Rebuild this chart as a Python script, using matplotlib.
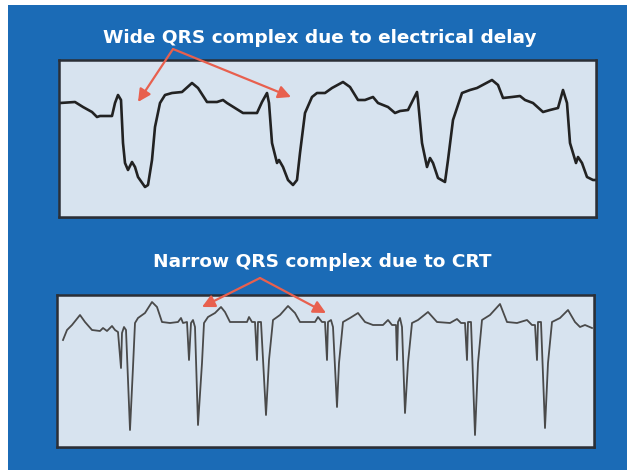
import matplotlib
matplotlib.use("Agg")
import matplotlib.pyplot as plt
from matplotlib.patches import Rectangle
import numpy as np

# ---- data (time in sample units, amplitude in arbitrary units) ----
top_t = [60, 75, 83, 92, 97, 100, 112, 115, 118, 121, 123, 125, 128, 132, 135, 138, 145, 148, 152, 155,
         160, 165, 172, 182, 192, 198, 207, 217, 223, 227, 235, 243, 248, 257, 262, 267, 269, 272, 277,
         279, 283, 288, 293, 297, 300, 305, 312, 317, 325, 332, 343, 350, 358, 365, 373, 378, 388, 395,
         400, 408, 413, 417, 418, 422, 427, 430, 433, 438, 445, 448, 453, 462, 470, 477, 492, 498, 503,
         512, 520, 525, 533, 543, 550, 558, 563, 567, 570, 576, 578, 582, 587, 593, 596]
top_v = [13, 14, 9, 4, -1, 0, 0, 13, 21, 16, -27, -47, -54, -46, -51, -61, -71, -69, -44, -11,
         13, 21, 23, 24, 33, 28, 14, 14, 16, 13, 8, 3, 3, 3, 14, 23, 13, -27, -47,
         -44, -51, -64, -69, -64, -37, 3, 19, 23, 23, 28, 34, 29, 16, 16, 19, 13, 9, 3,
         5, 6, 16, 24, 16, -27, -51, -42, -47, -62, -66, -44, -4, 23, 26, 28, 36, 31, 18,
         19, 20, 16, 13, 4, 6, 8, 26, 13, -27, -47, -41, -47, -61, -64, -64]

bot_t = [63, 67, 72, 80, 85, 92, 100, 103, 107, 112, 115, 118, 121, 122, 124, 126, 130, 133, 135, 138,
         145, 152, 157, 162, 170, 178, 181, 183, 187, 189, 191, 193, 195, 198, 202, 204, 208, 215, 221,
         225, 230, 247, 249, 252, 255, 257, 258, 261, 266, 269, 273, 280, 288, 295, 300, 315, 318, 322,
         325, 327, 328, 331, 333, 337, 339, 343, 350, 358, 365, 373, 383, 388, 392, 396, 397, 398, 400,
         402, 405, 408, 412, 418, 428, 437, 450, 457, 461, 465, 467, 468, 471, 475, 478, 482, 490, 500,
         507, 517, 527, 532, 535, 537, 538, 541, 545, 548, 552, 560, 568, 575, 580, 585, 592]
bot_v = [-18, -8, -3, 7, 0, -8, -9, -6, -9, -4, -8, -10, -46, -11, -5, -8, -108, -45, -1, 4,
         9, 20, 15, 0, -1, 0, 4, -1, 0, -38, -1, 2, -5, -103, -41, -1, 5, 9, 15,
         10, 0, 0, 5, 0, 0, -38, 0, 0, -93, -38, 2, 7, 16, 9, 0, 0, 5, 0,
         0, -38, 0, 2, -5, -85, -41, 0, 4, 9, 0, -3, -3, 2, -3, -3, -38, 0, 4,
         -5, -91, -41, -1, 2, 10, 0, -1, 3, -1, -1, -38, 0, 0, -113, -41, 2, 7, 18,
         0, -1, 2, -3, -3, -38, 0, 0, -106, -41, 0, 4, 12, 0, -5, -3, -6]

top_title = "Wide QRS complex due to electrical delay"
bot_title = "Narrow QRS complex due to CRT"

BLUE = "#1b6bb6"
PANEL = "#d7e3ef"

fig = plt.figure(figsize=(6.27, 4.70), dpi=100)
fig.patch.set_facecolor("white")

# background axes in pixel coordinates
bg = fig.add_axes([0, 0, 1, 1])
bg.set_xlim(0, 627)
bg.set_ylim(470, 0)
bg.axis("off")
bg.add_patch(Rectangle((8, 5), 619, 465, facecolor=BLUE, edgecolor="none"))

W, H = 627.0, 470.0
def px_axes(x0, y0, x1, y1):
    return fig.add_axes([x0 / W, 1 - y1 / H, (x1 - x0) / W, (y1 - y0) / H])

# shadows
bg.add_patch(Rectangle((61, 62), 537, 157, facecolor="#2a3a4a", edgecolor="none", alpha=0.6))
bg.add_patch(Rectangle((60, 297), 536, 152, facecolor="#2a3a4a", edgecolor="none", alpha=0.6))

ax1 = px_axes(59, 60, 596, 217)
ax1.plot(top_t, top_v, color="#222222", lw=1.9, solid_joinstyle="round")
ax1.set_xlim(59, 596)
ax1.set_ylim(116 - 217, 116 - 60)

ax2 = px_axes(57, 295, 594, 447)
ax2.plot(bot_t, bot_v, color="#4a4a4a", lw=1.3, solid_joinstyle="round")
ax2.set_xlim(57, 594)
ax2.set_ylim(322 - 447, 322 - 295)

for ax in (ax1, ax2):
    ax.set_facecolor(PANEL)
    ax.set_xticks([]); ax.set_yticks([])
    for s in ax.spines.values():
        s.set_color("#2b2f36")
        s.set_linewidth(1.8)

# texts and arrows drawn on top of everything
top = fig.add_axes([0, 0, 1, 1], facecolor="none")
top.set_xlim(0, 627); top.set_ylim(470, 0); top.axis("off")

top.text(320, 38, top_title, color="white", fontsize=13.3, fontweight="bold",
         ha="center", va="center", family="DejaVu Sans")
top.text(322, 262, bot_title, color="white", fontsize=13.3, fontweight="bold",
         ha="center", va="center", family="DejaVu Sans")

ARROW = "#e8604e"
def arrow(x0, y0, x1, y1):
    top.annotate("", xy=(x1, y1), xytext=(x0, y0), zorder=10,
                 arrowprops=dict(arrowstyle="-|>,head_length=0.75,head_width=0.38",
                                 color=ARROW, lw=1.6, shrinkA=0, shrinkB=0))

arrow(173, 49, 138, 102)
arrow(173, 49, 291, 97)
arrow(260, 278, 202, 307)
arrow(260, 278, 326, 313)

fig.savefig("out.png", dpi=100)
